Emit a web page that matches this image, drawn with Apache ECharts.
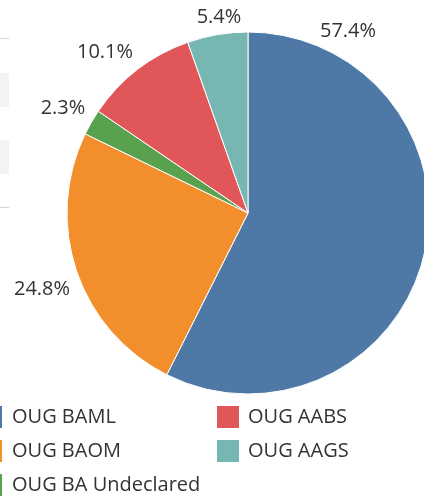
<!DOCTYPE html>
<html>
<head>
<meta charset="utf-8">
<script src="https://cdn.jsdelivr.net/npm/echarts@6/dist/echarts.min.js"></script>
<style>
  html, body { margin: 0; padding: 0; background: #fff; }
  #chart { width: 424px; height: 498px; }
</style>
</head>
<body>
<div id="chart"></div>
<script>
  // slice names and shares (%) in drawing order, clockwise from 12 o'clock
  var names = ['OUG BAML', 'OUG BAOM', 'OUG BA Undeclared', 'OUG AABS', 'OUG AAGS'];
  var shares = [57.4, 24.8, 2.3, 10.1, 5.4];
  var colors = ['#4e79a7', '#f28e2b', '#59a14f', '#e15759', '#76b7b2'];

  // where each percent label sits (label centres)
  var labelPos = [[348, 31], [42, 289], [63, 108], [105, 52], [219, 17]];
  // legend slots: [left, top, textPadLeft] per item, two columns
  var legendPos = [[-22, 404, 4], [-22, 438, 4], [-22, 472, 4], [215, 404, 3], [215, 438, 3]];

  var pieData = [];
  for (var i = 0; i < names.length; i++) {
    pieData.push({ name: names[i], value: shares[i], itemStyle: { color: colors[i] } });
  }

  var font = '"Open Sans", "Noto Sans", sans-serif';
  var legends = [];
  for (var j = 0; j < names.length; j++) {
    legends.push({
      data: [names[j]],
      left: legendPos[j][0],
      top: legendPos[j][1],
      itemWidth: 24,
      itemHeight: 24,
      padding: 0,
      icon: 'rect',
      selectedMode: false,
      textStyle: { fontFamily: font, fontSize: 20, color: '#333', padding: [0, 0, 0, legendPos[j][2]] }
    });
  }

  var chart = echarts.init(document.getElementById('chart'));

  var option = {
    animation: false,
    graphic: [
      { type: 'rect', shape: { x: 0, y: 38, width: 9, height: 1 }, style: { fill: '#d4d4d4' } },
      { type: 'rect', shape: { x: 0, y: 73, width: 9, height: 34 }, style: { fill: '#f3f3f3' } },
      { type: 'rect', shape: { x: 0, y: 140, width: 9, height: 34 }, style: { fill: '#f3f3f3' } },
      { type: 'rect', shape: { x: 0, y: 207, width: 9, height: 1 }, style: { fill: '#d4d4d4' } }
    ],
    legend: legends,
    series: [{
      type: 'pie',
      center: [248, 213],
      radius: [0, 181],
      startAngle: 90,
      clockwise: true,
      data: pieData,
      itemStyle: { borderColor: '#fff', borderWidth: 1 },
      label: {
        show: true,
        position: 'outside',
        overflow: 'none',
        formatter: function (p) { return p.value.toFixed(1) + '%'; },
        fontFamily: font,
        fontSize: 20,
        color: '#333'
      },
      labelLine: { show: false },
      labelLayout: function (p) {
        var pos = labelPos[p.dataIndex];
        return { x: pos[0], y: pos[1], align: 'center', verticalAlign: 'middle' };
      },
      emphasis: { disabled: true }
    }]
  };

  chart.setOption(option);
</script>
</body>
</html>
